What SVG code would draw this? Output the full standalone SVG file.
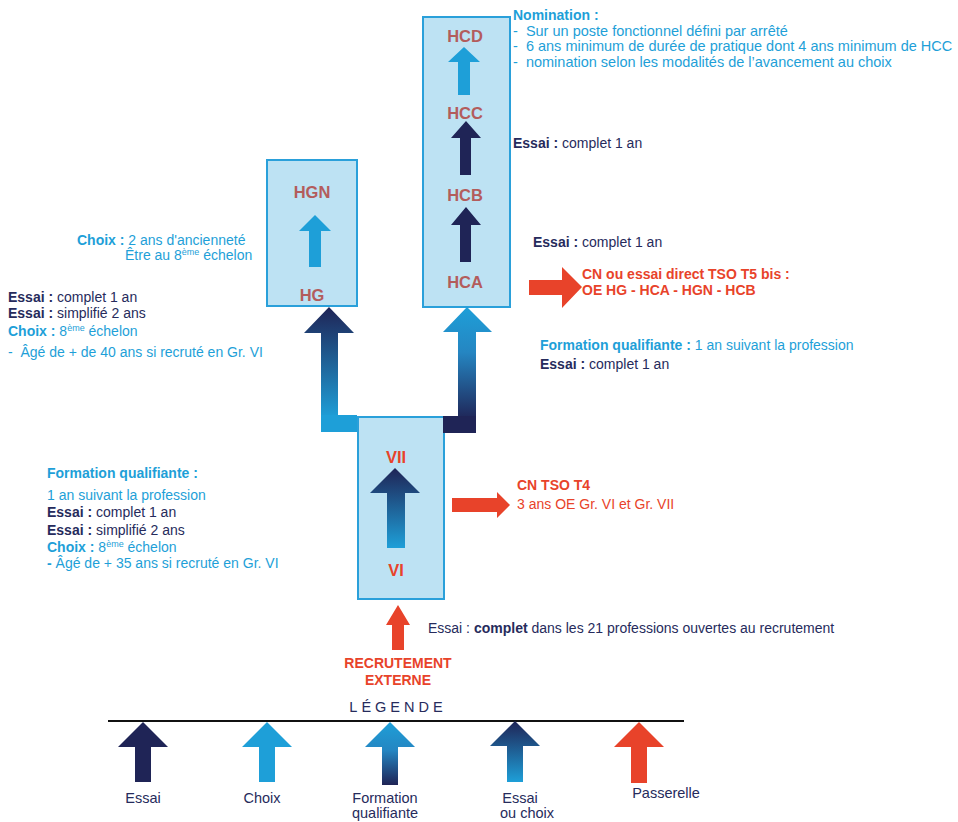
<svg xmlns="http://www.w3.org/2000/svg" width="958" height="822" viewBox="0 0 958 822">
<defs>
<style>
text{font-family:"Liberation Sans",Arial,sans-serif;font-size:14px}
.box{fill:#bde2f3;stroke:#2aa0da;stroke-width:2}
.nl{font-weight:bold;font-size:16.5px;fill:#b35c5c;text-anchor:middle}
.gl{font-weight:bold;font-size:16.5px;fill:#e8432a;text-anchor:middle}
.lb{fill:#1e9fd8}
.nm{font-size:14.5px}
.nv{fill:#262b5c}
.rd{fill:#e8432a}
.b{font-weight:bold}
.sup{font-size:9px}
.lg{font-size:14.5px;fill:#262b5c;text-anchor:middle}
.navy{fill:#1f2456}
.blue{fill:#1e9fd8}
.red{fill:#e8432a}
</style>
<linearGradient id="gDown" x1="0" y1="0" x2="0" y2="1">
<stop offset="0" stop-color="#1f2456"/><stop offset="1" stop-color="#1e9fd8"/>
</linearGradient>
<linearGradient id="gUp" x1="0" y1="0" x2="0" y2="1">
<stop offset="0" stop-color="#1e9fd8"/><stop offset="0.45" stop-color="#2586c2"/><stop offset="1" stop-color="#1f2456"/>
</linearGradient>
<linearGradient id="gL" gradientUnits="userSpaceOnUse" x1="0" y1="307" x2="0" y2="418">
<stop offset="0" stop-color="#1f2456"/><stop offset="1" stop-color="#1e9fd8"/>
</linearGradient>
<linearGradient id="gR" gradientUnits="userSpaceOnUse" x1="0" y1="307" x2="0" y2="420">
<stop offset="0" stop-color="#1e9fd8"/><stop offset="0.4" stop-color="#2586c2"/><stop offset="1" stop-color="#1f2456"/>
</linearGradient>
</defs>
<rect width="958" height="822" fill="#ffffff"/>

<g id="node-hg">
<rect class="box" x="267" y="160" width="90" height="146"/>
<text class="nl" x="312" y="198">HGN</text>
<text class="nl" x="312" y="301">HG</text>
</g>

<g id="node-hc">
<rect class="box" x="423" y="17" width="87" height="290"/>
<text class="nl" x="465" y="42">HCD</text>
<text class="nl" x="465" y="119">HCC</text>
<text class="nl" x="465" y="201">HCB</text>
<text class="nl" x="465" y="288">HCA</text>
</g>

<g id="node-vi">
<rect class="box" x="358" y="417" width="86" height="182"/>
<text class="gl" x="396" y="463">VII</text>
<text class="gl" x="396" y="576">VI</text>
</g>

<g id="connectors">
<polygon class="blue" points="315,215 331,231 321,231 321,267 309,267 309,231 299,231"/>
<polygon class="blue" points="464,47 480,62 470,62 470,95 458,95 458,62 448,62"/>
<polygon class="navy" points="466,121 481,138 471,138 471,175 460,175 460,138 451,138"/>
<polygon class="navy" points="466,207 481,225 471,225 471,262 460,262 460,225 451,225"/>
<polygon fill="url(#gDown)" points="395,468 420,493 405,493 405,548 387,548 387,493 370,493"/>
<polygon fill="url(#gL)" points="329,307 354,333 338,333 338,415 321,415 321,333 304,333"/>
<rect class="blue" x="321" y="415" width="36" height="17"/>
<polygon fill="url(#gR)" points="467,307 492,332 476,332 476,433 458,433 458,332 443,332"/>
<rect class="navy" x="443" y="416" width="33" height="17"/>
<polygon class="red" points="398,605 410,625 404,625 404,650 392,650 392,625 386,625"/>
<polygon class="red" points="452,498 497,498 497,492 510,505 497,518 497,512 452,512"/>
<polygon class="red" points="529,280 562,280 562,267 582,287 562,308 562,295 529,295"/>
</g>

<g id="texts">
<text class="lb b" x="513" y="20">Nomination :</text>
<text class="lb nm" x="513" y="36">-&#160;&#160;Sur un poste fonctionnel défini par arrêté</text>
<text class="lb nm" x="513" y="51">-&#160;&#160;6 ans minimum de durée de pratique dont 4 ans minimum de HCC</text>
<text class="lb nm" x="513" y="67">-&#160;&#160;nomination selon les modalités de l’avancement au choix</text>
<text class="nv" x="513" y="148"><tspan class="b">Essai :</tspan> complet 1 an</text>
<text class="nv" x="533" y="247"><tspan class="b">Essai :</tspan> complet 1 an</text>
<text class="rd b" x="582" y="279">CN ou essai direct TSO T5 bis :</text>
<text class="rd b" x="582" y="295">OE HG - HCA - HGN - HCB</text>
<text class="lb" x="540" y="350"><tspan class="b">Formation qualifiante :</tspan> 1 an suivant la profession</text>
<text class="nv" x="540" y="369"><tspan class="b">Essai :</tspan> complet 1 an</text>

<text class="lb" x="77" y="245"><tspan class="b">Choix :</tspan> 2 ans d'ancienneté</text>
<text class="lb" x="125" y="260">Être au 8<tspan class="sup" dy="-5">ème</tspan><tspan dy="5"> échelon</tspan></text>
<text class="nv" x="8" y="302"><tspan class="b">Essai :</tspan> complet 1 an</text>
<text class="nv" x="8" y="318"><tspan class="b">Essai :</tspan> simplifié 2 ans</text>
<text class="lb" x="8" y="336"><tspan class="b">Choix :</tspan> 8<tspan class="sup" dy="-5">ème</tspan><tspan dy="5"> échelon</tspan></text>
<text class="lb" x="8" y="357">-&#160;&#160;Âgé de + de 40 ans si recruté en Gr. VI</text>

<text class="lb b" x="47" y="478">Formation qualifiante :</text>
<text class="lb" x="47" y="500">1 an suivant la profession</text>
<text class="nv" x="47" y="517"><tspan class="b">Essai :</tspan> complet 1 an</text>
<text class="nv" x="47" y="535"><tspan class="b">Essai :</tspan> simplifié 2 ans</text>
<text class="lb" x="47" y="552"><tspan class="b">Choix :</tspan> 8<tspan class="sup" dy="-5">ème</tspan><tspan dy="5"> échelon</tspan></text>
<text class="lb" x="47" y="568"><tspan class="b">-</tspan> Âgé de + 35 ans si recruté en Gr. VI</text>

<text class="rd b" x="517" y="490">CN TSO T4</text>
<text class="rd" x="517" y="509">3 ans OE Gr. VI et Gr. VII</text>
<text class="nv" x="428" y="633">Essai : <tspan class="b">complet</tspan> dans les 21 professions ouvertes au recrutement</text>
<text class="rd b" x="398" y="668" text-anchor="middle" font-size="13px">RECRUTEMENT</text>
<text class="rd b" x="398" y="685" text-anchor="middle" font-size="13px">EXTERNE</text>
</g>

<g id="legend">
<text class="lg" x="398" y="712" letter-spacing="4" font-size="13px">LÉGENDE</text>
<line x1="108" y1="721" x2="684" y2="721" stroke="#111111" stroke-width="2"/>
<polygon class="navy" points="143,722 168,747 151,747 151,782 135,782 135,747 118,747"/>
<polygon class="blue" points="267,722 292,747 275,747 275,782 259,782 259,747 242,747"/>
<polygon fill="url(#gUp)" points="390,722 415,747 398,747 398,785 382,785 382,747 365,747"/>
<polygon fill="url(#gDown)" points="515,721 540,746 523,746 523,782 507,782 507,746 490,746"/>
<polygon class="red" points="639,722 664,747 647,747 647,783 631,783 631,747 614,747"/>
<text class="lg" x="143" y="803">Essai</text>
<text class="lg" x="262" y="803">Choix</text>
<text class="lg" x="385" y="803">Formation</text>
<text class="lg" x="385" y="818">qualifiante</text>
<text class="lg" x="520" y="803">Essai</text>
<text class="lg" x="527" y="818">ou choix</text>
<text class="lg" x="666" y="798">Passerelle</text>
</g>
</svg>
